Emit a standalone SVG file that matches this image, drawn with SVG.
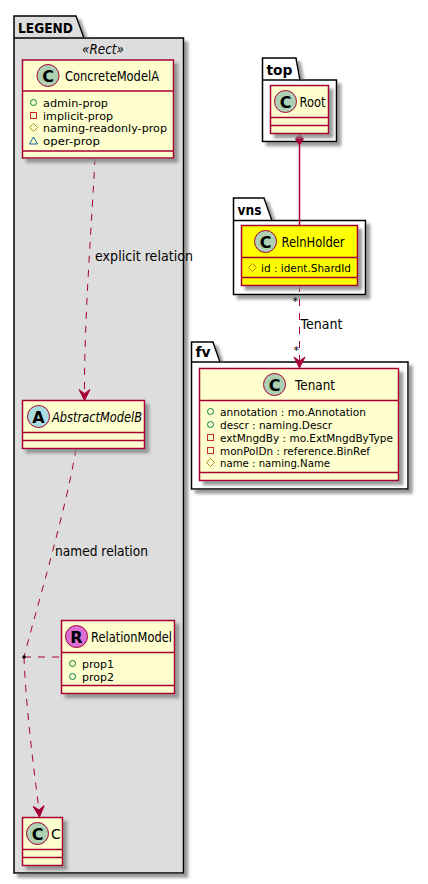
<svg xmlns="http://www.w3.org/2000/svg" width="428" height="884" viewBox="0 0 428 884">
<style>
text{font-family:"DejaVu Sans",sans-serif;fill:#000}
.pk{fill:#fff;stroke:#000;stroke-width:1.5}
.pk.g{fill:#ddd}
.pt{font-size:14.5px;font-weight:bold}
.cb{fill:#FEFECE;stroke:#A80036;stroke-width:1.5}
.cb.y{fill:#ff0}
.ln{stroke:#A80036;stroke-width:1.5;fill:none}
.cn{font-size:14px}
.at{font-size:11px}
.lb{font-size:14px}
.st{font-size:11px}
.ci{stroke:#A80036;stroke-width:1}
.gl{font-size:16px;font-weight:bold;text-anchor:middle}
.pub{fill:none;stroke:#038048}
.pri{fill:none;stroke:#C82930}
.pro{fill:none;stroke:#B38D22}
.pac{fill:none;stroke:#1963A0}
.da{stroke:#A80036;fill:none;stroke-dasharray:7,7}
</style>
<defs>
<filter id="s" x="-20%" y="-20%" width="140%" height="140%"><feGaussianBlur in="SourceAlpha" stdDeviation="1.8"/><feOffset dx="4" dy="4"/><feColorMatrix values="0 0 0 0 0.25 0 0 0 0 0.25 0 0 0 0 0.25 0 0 0 0.85 0"/><feMerge><feMergeNode/><feMergeNode in="SourceGraphic"/></feMerge></filter>
<path id="ah" d="M0,0 L-5.5,-11 L0,-7 L5.5,-11 Z" fill="#A80036" stroke="#A80036"/>
</defs>

<g id="pkg-LEGEND">
<path class="pk g" filter="url(#s)" d="M14,38 V16 H76 L84,38 H183.5 V873 H14 Z"/>
<path class="ln" style="stroke:#000" d="M14,38 H84"/>
<text class="pt" x="18" y="33" textLength="55" lengthAdjust="spacingAndGlyphs">LEGEND</text>
<text x="103" y="54" text-anchor="middle" font-size="14" font-style="italic" textLength="42" lengthAdjust="spacingAndGlyphs">«Rect»</text>
</g>
<g id="pkg-top">
<path class="pk" filter="url(#s)" d="M262.5,80 V58 H296 L300,80 H336.5 V141.5 H262.5 Z"/>
<path class="ln" style="stroke:#000" d="M262.5,80 H300"/>
<text class="pt" x="266.5" y="75" textLength="26" lengthAdjust="spacingAndGlyphs">top</text>
</g>
<g id="pkg-vns">
<path class="pk" filter="url(#s)" d="M233.5,220.5 V198 H264 L272,220.5 H365.5 V294.5 H233.5 Z"/>
<path class="ln" style="stroke:#000" d="M233.5,220.5 H272"/>
<text class="pt" x="237.5" y="215" textLength="24" lengthAdjust="spacingAndGlyphs">vns</text>
</g>
<g id="pkg-fv">
<path class="pk" filter="url(#s)" d="M191.5,362 V342 H213 L220,362 H408 V489 H191.5 Z"/>
<path class="ln" style="stroke:#000" d="M191.5,362 H220"/>
<text class="pt" x="195.5" y="357" textLength="15" lengthAdjust="spacingAndGlyphs">fv</text>
</g>

<g id="connectors">
<path class="da" d="M95,158 C92,220 84,320 84.5,394"/>
<use href="#ah" x="84.5" y="400.5"/>
<text class="lb" x="95" y="261" textLength="98" lengthAdjust="spacingAndGlyphs">explicit relation</text>
<path class="da" d="M76,449 C66,510 36,610 24,657"/>
<text class="lb" x="55" y="556" textLength="93" lengthAdjust="spacingAndGlyphs">named relation</text>
<path class="da" d="M24,657 C26,710 34,770 39,810"/>
<use href="#ah" transform="translate(39.5,817) rotate(-4)"/>
<path class="da" d="M24,657 H61"/>
<circle cx="24" cy="657" r="1.7" fill="#000"/>
<path class="ln" d="M299.5,145 V225"/>
<path d="M299.5,133.5 L303.5,139 L299.5,145 L295.5,139 Z" fill="#A80036" stroke="#A80036"/>
<path class="da" d="M299.5,285 V361"/>
<use href="#ah" x="299.5" y="368"/>
<text class="lb" x="300.5" y="329" textLength="42" lengthAdjust="spacingAndGlyphs">Tenant</text>
<text class="st" x="292.5" y="305">*</text>
<text class="st" x="293.5" y="354">*</text>
</g>

<g id="node-ConcreteModelA">
<rect class="cb" filter="url(#s)" x="22.5" y="60" width="151" height="98"/>
<path class="ln" d="M22.5,91 H173.5 M22.5,151 H173.5"/>
<circle class="ci" cx="48" cy="75.5" r="11" fill="#ADD1B2"/><text class="gl" x="48" y="81.5">C</text>
<text class="cn" x="65" y="80.5" textLength="94" lengthAdjust="spacingAndGlyphs">ConcreteModelA</text>
<circle class="pub" cx="33.5" cy="102.5" r="3"/><text class="at" x="43" y="106.5" textLength="65" lengthAdjust="spacingAndGlyphs">admin-prop</text>
<rect class="pri" x="30.5" y="112.5" width="6" height="6"/><text class="at" x="43" y="119.5" textLength="70" lengthAdjust="spacingAndGlyphs">implicit-prop</text>
<path class="pro" d="M33.5,123.5 L37.5,127.5 L33.5,131.5 L29.5,127.5 Z"/><text class="at" x="43" y="132" textLength="124" lengthAdjust="spacingAndGlyphs">naming-readonly-prop</text>
<path class="pac" d="M33.5,137 L37.5,144 H29.5 Z"/><text class="at" x="43" y="145" textLength="57" lengthAdjust="spacingAndGlyphs">oper-prop</text>
</g>

<g id="node-AbstractModelB">
<rect class="cb" filter="url(#s)" x="22.5" y="400.5" width="122" height="48"/>
<path class="ln" d="M22.5,432.5 H144.5 M22.5,440.5 H144.5"/>
<circle class="ci" cx="38.5" cy="416.5" r="11" fill="#A9DCDF"/><text class="gl" x="38.5" y="422.5">A</text>
<text class="cn" x="52" y="421.5" font-style="italic" textLength="90" lengthAdjust="spacingAndGlyphs">AbstractModelB</text>
</g>

<g id="node-RelationModel">
<rect class="cb" filter="url(#s)" x="61.5" y="620.5" width="113" height="73"/>
<path class="ln" d="M61.5,652.5 H174.5 M61.5,685.5 H174.5"/>
<circle class="ci" cx="76.5" cy="636.5" r="11" fill="#DA70D6"/><text class="gl" x="76.5" y="642.5">R</text>
<text class="cn" x="91" y="642" textLength="81" lengthAdjust="spacingAndGlyphs">RelationModel</text>
<circle class="pub" cx="72.5" cy="663.5" r="3"/><text class="at" x="82" y="667.5" textLength="32" lengthAdjust="spacingAndGlyphs">prop1</text>
<circle class="pub" cx="72.5" cy="676.5" r="3"/><text class="at" x="82" y="680.5" textLength="32" lengthAdjust="spacingAndGlyphs">prop2</text>
</g>

<g id="node-C">
<rect class="cb" filter="url(#s)" x="22.5" y="817.5" width="40" height="48"/>
<path class="ln" d="M22.5,849.5 H62.5 M22.5,857.5 H62.5"/>
<circle class="ci" cx="37.5" cy="833.5" r="11" fill="#ADD1B2"/><text class="gl" x="37.5" y="839.5">C</text>
<text class="cn" x="51" y="839">C</text>
</g>

<g id="node-Root">
<rect class="cb" filter="url(#s)" x="270.5" y="85.5" width="58" height="48"/>
<path class="ln" d="M270.5,117.5 H328.5 M270.5,125.5 H328.5"/>
<circle class="ci" cx="285.5" cy="101.5" r="11" fill="#ADD1B2"/><text class="gl" x="285.5" y="107.5">C</text>
<text class="cn" x="299.5" y="107" textLength="26" lengthAdjust="spacingAndGlyphs">Root</text>
</g>

<g id="node-RelnHolder">
<rect class="cb y" filter="url(#s)" x="241.5" y="225.5" width="116" height="60"/>
<path class="ln" d="M241.5,257.5 H357.5 M241.5,277.5 H357.5"/>
<circle class="ci" cx="265.5" cy="241.5" r="11" fill="#ADD1B2"/><text class="gl" x="265.5" y="247.5">C</text>
<text class="cn" x="281.5" y="247" textLength="63" lengthAdjust="spacingAndGlyphs">RelnHolder</text>
<path class="pro" d="M252.5,263.5 L256.5,267.5 L252.5,271.5 L248.5,267.5 Z"/><text class="at" x="261" y="271.5" textLength="90" lengthAdjust="spacingAndGlyphs">id : ident.ShardId</text>
</g>

<g id="node-Tenant">
<rect class="cb" filter="url(#s)" x="199.5" y="368.5" width="199" height="112"/>
<path class="ln" d="M199.5,400.5 H398.5 M199.5,472.5 H398.5"/>
<circle class="ci" cx="274.5" cy="384.5" r="11" fill="#ADD1B2"/><text class="gl" x="274.5" y="390.5">C</text>
<text class="cn" x="295" y="390" textLength="40" lengthAdjust="spacingAndGlyphs">Tenant</text>
<circle class="pub" cx="210.5" cy="411.5" r="3"/><text class="at" x="220" y="415.5" textLength="146" lengthAdjust="spacingAndGlyphs">annotation : mo.Annotation</text>
<circle class="pub" cx="210.5" cy="424.5" r="3"/><text class="at" x="220" y="428.5" textLength="112" lengthAdjust="spacingAndGlyphs">descr : naming.Descr</text>
<rect class="pri" x="207.5" y="434.5" width="6" height="6"/><text class="at" x="220" y="441.5" textLength="173" lengthAdjust="spacingAndGlyphs">extMngdBy : mo.ExtMngdByType</text>
<rect class="pri" x="207.5" y="447.5" width="6" height="6"/><text class="at" x="220" y="454.5" textLength="150" lengthAdjust="spacingAndGlyphs">monPolDn : reference.BinRef</text>
<path class="pro" d="M210.5,458.5 L214.5,462.5 L210.5,466.5 L206.5,462.5 Z"/><text class="at" x="220" y="466.5" textLength="110" lengthAdjust="spacingAndGlyphs">name : naming.Name</text>
</g>
</svg>
